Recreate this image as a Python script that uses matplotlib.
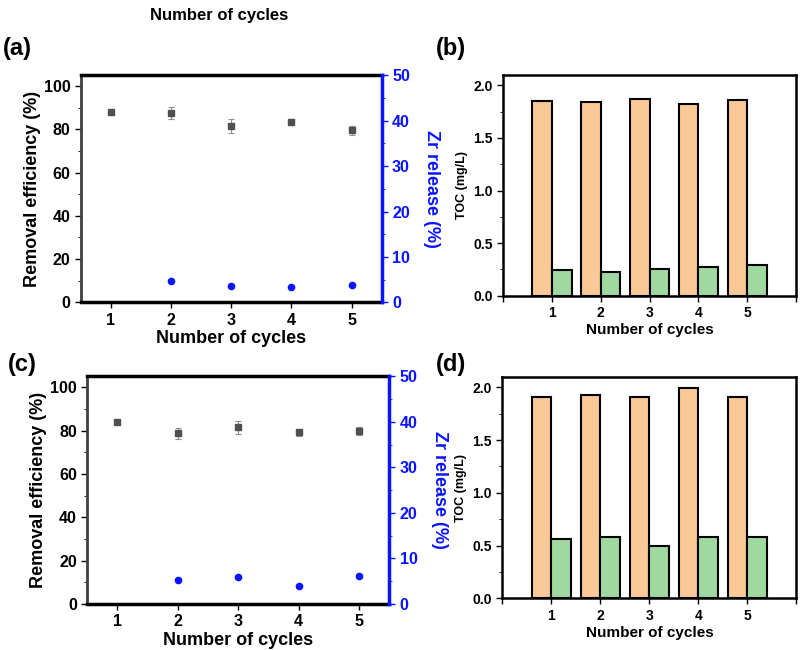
import numpy as np
import matplotlib.pyplot as plt
from matplotlib.ticker import MultipleLocator

plt.rcParams['font.family'] = ['Liberation Sans', 'DejaVu Sans']
plt.rcParams['font.weight'] = 'bold'

cycles = [1, 2, 3, 4, 5]

# panel (a)
rem_a = [88.2, 87.6, 81.4, 83.4, 79.5]
rem_a_err = [0.0, 2.6, 3.2, 1.4, 2.0]
zr_a = [None, 4.6, 3.6, 3.3, 3.8]
# panel (b)
toc_b_orange = [1.85, 1.84, 1.87, 1.82, 1.86]
toc_b_green = [0.24, 0.23, 0.25, 0.27, 0.29]
# panel (c)
rem_c = [84.0, 78.7, 81.5, 79.2, 79.7]
rem_c_err = [0.0, 2.6, 3.0, 1.5, 1.9]
zr_c = [None, 5.3, 6.0, 3.9, 6.1]
# panel (d)
toc_d_orange = [1.91, 1.93, 1.91, 1.99, 1.91]
toc_d_green = [0.56, 0.58, 0.50, 0.58, 0.58]

fig = plt.figure(figsize=(8, 6.5), dpi=100)


def removal_panel(rect, rem, err, zr):
    ax = fig.add_axes(rect)
    ax.errorbar(cycles, rem, yerr=err, fmt='s', color='#505050', ms=4,
                ecolor='#909090', elinewidth=0.8, capsize=2, capthick=0.8)
    ax.set_xlim(0.5, 5.5)
    ax.set_ylim(0, 105)
    ax.set_xticks(cycles)
    ax.set_yticks([0, 20, 40, 60, 80, 100])
    ax.yaxis.set_minor_locator(MultipleLocator(10))
    ax.tick_params(labelsize=11.5, width=1, length=4)
    ax.tick_params(which='minor', length=2)
    ax.set_ylabel('Removal efficiency (%)', fontsize=13, fontweight='bold', labelpad=2)
    ax.set_xlabel('Number of cycles', fontsize=13, fontweight='bold', labelpad=2)
    for s in ['top', 'bottom']:
        ax.spines[s].set_linewidth(2.5)
    ax.spines['left'].set_linewidth(2)
    ax.spines['left'].set_color('#404040')
    ax.spines['right'].set_visible(False)

    ax2 = ax.twinx()
    xs = [c for c, z in zip(cycles, zr) if z is not None]
    zs = [z for z in zr if z is not None]
    ax2.plot(xs, zs, 'o', color='#0a14ff', ms=4.5)
    ax2.set_ylim(0, 50)
    ax2.set_yticks([0, 10, 20, 30, 40, 50])
    ax2.yaxis.set_minor_locator(MultipleLocator(5))
    ax2.tick_params(axis='y', colors='#0a14ff', labelsize=11.5, width=1, length=4)
    ax2.tick_params(axis='y', which='minor', colors='#0a14ff', length=2)
    ax2.spines['right'].set_color('#0a14ff')
    ax2.spines['right'].set_linewidth(2.5)
    for s in ['top', 'bottom', 'left']:
        ax2.spines[s].set_visible(False)
    ax2.set_ylabel('Zr release (%)', fontsize=13, fontweight='bold',
                   color='#0a14ff', rotation=270, labelpad=22)
    return ax


def toc_panel(rect, orange, green):
    ax = fig.add_axes(rect)
    x = np.array(cycles)
    ax.bar(x - 0.4, orange, width=0.4, align='edge', color='#fbc997',
           edgecolor='black', linewidth=1.5)
    ax.bar(x, green, width=0.4, align='edge', color='#a0d9a0',
           edgecolor='black', linewidth=1.5)
    ax.set_xlim(0, 6)
    ax.set_ylim(0, 2.1)
    ax.set_xticks(range(0, 7))
    ax.set_xticklabels(['', '1', '2', '3', '4', '5', ''])
    ax.set_yticks([0, 0.5, 1.0, 1.5, 2.0])
    ax.yaxis.set_minor_locator(MultipleLocator(0.25))
    ax.tick_params(labelsize=10, width=1, length=4)
    ax.tick_params(which='minor', length=2)
    for s in ax.spines.values():
        s.set_linewidth(1.8)
    ax.set_ylabel('TOC (mg/L)', fontsize=9, fontweight='bold')
    ax.set_xlabel('Number of cycles', fontsize=11, fontweight='bold', labelpad=2)
    return ax


removal_panel([0.101, 0.535, 0.376, 0.349], rem_a, rem_a_err, zr_a)
toc_panel([0.629, 0.545, 0.366, 0.340], toc_b_orange, toc_b_green)
removal_panel([0.109, 0.071, 0.3775, 0.350], rem_c, rem_c_err, zr_c)
toc_panel([0.628, 0.0795, 0.3675, 0.341], toc_d_orange, toc_d_green)

fig.text(0.274, 0.987, 'Number of cycles', fontsize=12, fontweight='bold',
         ha='center', va='top')
fig.text(0.003, 0.925, '(a)', fontsize=17, fontweight='bold', va='center')
fig.text(0.545, 0.925, '(b)', fontsize=17, fontweight='bold', va='center')
fig.text(0.01, 0.44, '(c)', fontsize=17, fontweight='bold', va='center')
fig.text(0.545, 0.44, '(d)', fontsize=17, fontweight='bold', va='center')

fig.savefig('out.png', dpi=100)
